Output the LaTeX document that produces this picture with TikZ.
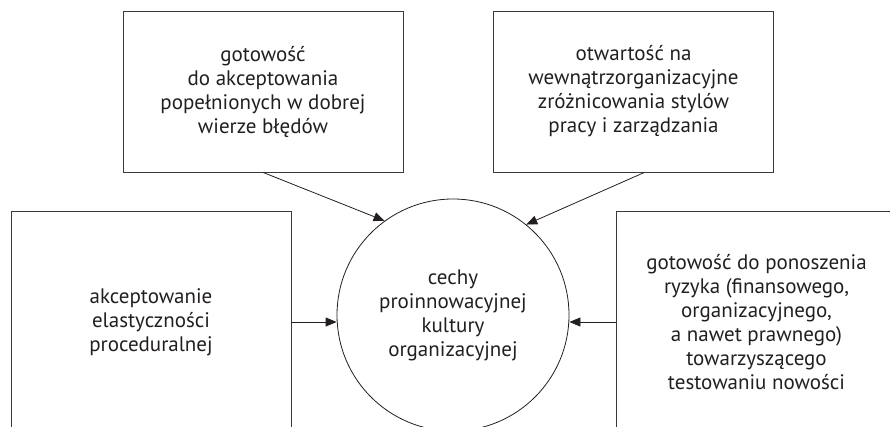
\documentclass[tikz,border=0pt]{standalone}
\usepackage{fontspec}
\setmainfont{PT Sans}
\usepackage{xcolor}
\usepackage{tikz}
\usetikzlibrary{shapes.geometric,arrows.meta,positioning}
\definecolor{Ink}{HTML}{231F20}
\definecolor{Frame}{HTML}{3A3A3A}
\newcommand{\boxfont}{\fontsize{21}{24}\selectfont}
\begin{document}
\begin{tikzpicture}[x=1pt,y=-1pt,
  box/.style={rectangle,draw=Frame,line width=.8pt,minimum width=280pt,
    align=center,font=\boxfont,text=Ink},
  arr/.style={-{Triangle[length=11pt,width=9pt]},line width=.8pt,color=Ink}]
  \useasboundingbox (0,0) rectangle (890,427);
  % centre
  \node[circle,draw=Ink,line width=.8pt,minimum size=232pt,inner sep=0pt,
    align=center,font=\boxfont,text=Ink] (cechy) at (453,315)
    {cechy\\proinnowacyjnej\\kultury\\organizacyjnej};
  % upper boxes
  \node[box,minimum height=161pt] (bledy) at (263,91.5)
    {gotowość\\do akceptowania\\popełnionych w dobrej\\wierze błędów};
  \node[box,minimum height=161pt] (style) at (633.5,91.5)
    {otwartość na\\wewnątrzorganizacyjne\\zróżnicowania stylów\\pracy i zarządzania};
  % side boxes, cut off at the bottom
  \node[box,minimum height=222pt] (elast) at (151,322)
    {akceptowanie\\elastyczności\\proceduralnej};
  \node[box,minimum height=222pt] (ryzyko) at (756.5,322)
    {gotowość do ponoszenia\\ryzyka (finansowego,\\organizacyjnego,\\a nawet prawnego)\\towarzyszącego\\testowaniu nowości};
  \draw[arr] (bledy.south) -- (cechy.126);
  \draw[arr] ([xshift=11pt]style.south) -- (cechy.51);
  \draw[arr] (elast.east) -- (elast.east -| cechy.west);
  \draw[arr] (ryzyko.west) -- (ryzyko.west -| cechy.east);
\end{tikzpicture}
\end{document}
